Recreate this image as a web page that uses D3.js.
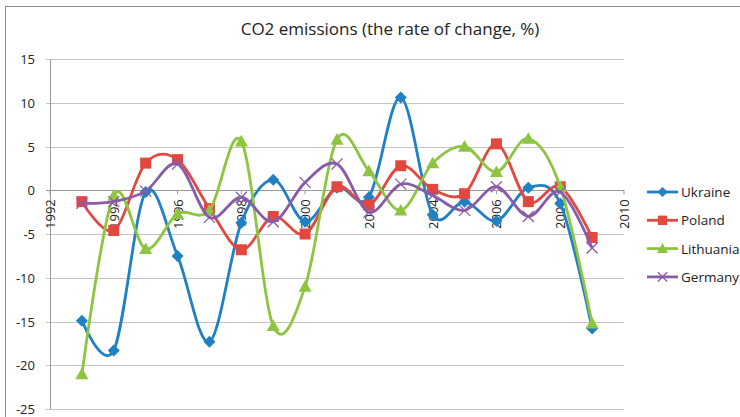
<!DOCTYPE html>
<html>
<head>
<meta charset="utf-8">
<script src="https://cdn.jsdelivr.net/npm/d3@7"></script>
<style>
	body { margin: 0; background: #fff; }
	svg text { font-family: "Open Sans", "Liberation Sans", sans-serif; fill: #222; }
</style>
</head>
<body>
<div id="chart"></div>
<script>
// years of the points
const years = [1993, 1994, 1995, 1996, 1997, 1998, 1999, 2000, 2001, 2002, 2003, 2004, 2005, 2006, 2007, 2008, 2009];

const ukraine = [-14.9, -18.3, -0.2, -7.5, -17.3, -3.7, 1.2, -3.6, 0.3, -0.8, 10.6, -2.8, -1.3, -3.5, 0.3, -1.5, -15.8];
const poland = [-1.3, -4.6, 3.1, 3.5, -2.1, -6.8, -3.0, -5.0, 0.4, -1.7, 2.8, 0.1, -0.4, 5.3, -1.3, 0.4, -5.4];
const lithuania = [-21.0, -0.6, -6.7, -2.7, -2.3, 5.6, -15.5, -11.0, 5.8, 2.2, -2.3, 3.1, 5.0, 2.1, 5.9, 0.4, -15.2];
const germany = [-1.5, -1.3, -0.1, 3.0, -3.1, -0.8, -3.6, 0.9, 3.0, -2.5, 0.7, -0.6, -2.3, 0.4, -3.0, -0.2, -6.6];

const seriesNames = ["Ukraine", "Poland", "Lithuania", "Germany"];
const seriesColors = ["#1f80c4", "#e2483f", "#8dc540", "#8a5ca8"];
const seriesMarkers = ["diamond", "square", "triangle", "cross"];

const xTicks = [1992, 1994, 1996, 1998, 2000, 2002, 2004, 2006, 2008, 2010];
const yTicks = [15, 10, 5, 0, -5, -10, -15, -20, -25];

const titleText = "CO2 emissions (the rate of change, %)";

class EmissionsChart {
	constructor() {
		this.width = 740;
		this.height = 417;
		this.margin = { top: 59, left: 50, right: 116, bottom: 8 };
		this.draw();
	}

	draw() {
		const svg = d3.select("#chart")
			.append("svg")
			.attr("width", this.width)
			.attr("height", this.height);

		// outer chart border
		svg.append("rect")
			.attr("x", 5.5)
			.attr("y", 6.5)
			.attr("width", this.width)
			.attr("height", this.height)
			.attr("fill", "none")
			.attr("stroke", "#8c8c8c");

		const xScale = d3.scaleLinear()
			.domain([1992, 2010])
			.range([this.margin.left, this.width - this.margin.right]);
		const yScale = d3.scaleLinear()
			.domain([-25, 15])
			.range([this.height - this.margin.bottom, this.margin.top]);

		// gridlines
		svg.append("g")
			.selectAll("line")
			.data(yTicks)
			.join("line")
			.attr("x1", xScale(1992) - 4)
			.attr("x2", xScale(2010))
			.attr("y1", (d) => Math.round(yScale(d)) + 0.5)
			.attr("y2", (d) => Math.round(yScale(d)) + 0.5)
			.attr("stroke", (d) => d === 0 ? "#9a9a9a" : "#c4c4c4")
			.attr("stroke-width", 1.2);

		// y axis line
		svg.append("line")
			.attr("x1", xScale(1992) + 0.5)
			.attr("x2", xScale(1992) + 0.5)
			.attr("y1", yScale(15))
			.attr("y2", yScale(-25))
			.attr("stroke", "#9a9a9a");

		svg.append("g")
			.selectAll("text")
			.data(yTicks)
			.join("text")
			.attr("x", xScale(1992) - 15)
			.attr("y", (d) => yScale(d) + 5)
			.attr("text-anchor", "end")
			.style("font-size", "13px")
			.text((d) => d);

		// x tick marks and rotated labels on the zero line
		svg.append("g")
			.selectAll("line")
			.data(xTicks)
			.join("line")
			.attr("x1", (d) => xScale(d))
			.attr("x2", (d) => xScale(d))
			.attr("y1", yScale(0))
			.attr("y2", yScale(0) + 4)
			.attr("stroke", "#9a9a9a");

		svg.append("g")
			.selectAll("text")
			.data(xTicks)
			.join("text")
			.attr("text-anchor", "end")
			.style("font-size", "13px")
			.attr("transform", (d) => `translate(${xScale(d) + 5}, ${yScale(0) + 9}) rotate(-90)`)
			.text((d) => d);

		const lineGenerator = d3.line()
			.x((d) => xScale(d.year))
			.y((d) => yScale(d.value))
			.curve(d3.curveCardinal.tension(0));

		const allSeries = [ukraine, poland, lithuania, germany];
		const dataReady = seriesNames.map((name, i) => ({
			name: name,
			color: seriesColors[i],
			marker: seriesMarkers[i],
			values: years.map((y, j) => ({ year: y, value: allSeries[i][j] })),
		}));

		const groups = svg.append("g")
			.selectAll("g")
			.data(dataReady)
			.join("g");

		groups.append("path")
			.attr("d", (d) => lineGenerator(d.values))
			.attr("fill", "none")
			.attr("stroke", (d) => d.color)
			.attr("stroke-width", 2.8)
			.attr("stroke-linejoin", "round");

		const self = this;
		groups.each(function (d) {
			d3.select(this)
				.selectAll(".pt")
				.data(d.values)
				.join("g")
				.attr("class", "pt")
				.attr("transform", (p) => `translate(${xScale(p.year)}, ${yScale(p.value)})`)
				.each(function () {
					self.drawMarker(d3.select(this), d.marker, d.color);
				});
		});

		// legend
		const legend = svg.append("g")
			.selectAll("g")
			.data(dataReady)
			.join("g")
			.attr("transform", (d, i) => `translate(647, ${192 + i * 28.3})`);
		legend.append("line")
			.attr("x1", 0)
			.attr("x2", 31)
			.attr("stroke", (d) => d.color)
			.attr("stroke-width", 2.8);
		legend.each(function (d) {
			const m = d3.select(this).append("g").attr("transform", "translate(15.5, 0)");
			self.drawMarker(m, d.marker, d.color, 0.85);
		});
		legend.append("text")
			.attr("x", 34)
			.attr("y", 5)
			.style("font-size", "13.5px")
			.text((d) => d.name);

		// title
		svg.append("text")
			.attr("x", 390)
			.attr("y", 35)
			.attr("text-anchor", "middle")
			.style("font-size", "17px")
			.text(titleText);
	}

	drawMarker(g, type, color, k = 1) {
		if (type === "diamond") {
			const s = 6 * k;
			g.append("path")
				.attr("d", `M0,${-s}L${s},0L0,${s}L${-s},0Z`)
				.attr("fill", color);
		} else if (type === "square") {
			const s = 5.5 * k;
			g.append("rect")
				.attr("x", -s).attr("y", -s)
				.attr("width", 2 * s).attr("height", 2 * s)
				.attr("fill", color);
		} else if (type === "triangle") {
			const s = 6.5 * k;
			g.append("path")
				.attr("d", `M0,${-s}L${s},${s * 0.8}L${-s},${s * 0.8}Z`)
				.attr("fill", color);
		} else {
			const s = 5.5 * k;
			g.append("path")
				.attr("d", `M${-s},${-s}L${s},${s}M${-s},${s}L${s},${-s}`)
				.attr("stroke", color)
				.attr("stroke-width", 1.3);
		}
	}
}

new EmissionsChart();
</script>
</body>
</html>
